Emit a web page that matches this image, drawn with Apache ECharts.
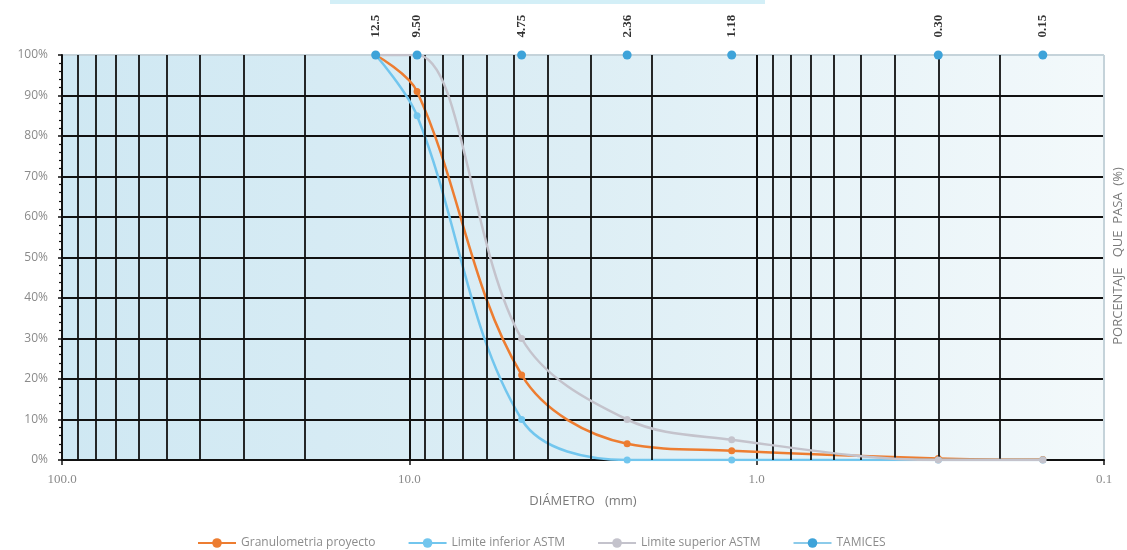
<!DOCTYPE html>
<html>
<head>
<meta charset="utf-8">
<script src="https://cdn.jsdelivr.net/npm/echarts@6/dist/echarts.min.js"></script>
<style>html,body{margin:0;padding:0;background:#fff;}#c{width:1127px;height:550px;}</style>
</head>
<body>
<div id="c"></div>
<script>
// Sieve sizes (mm) and their labels
const sieves = [12.5, 9.5, 4.75, 2.36, 1.18, 0.30, 0.15];
const sieveLabels = ['12.5', '9.50', '4.75', '2.36', '1.18', '0.30', '0.15'];
// Percent passing
const proyecto = [100, 91, 21, 4, 2.3, 0.4, 0.1];
const inferior = [100, 85, 10, 0, 0, 0, 0];
const superior = [100, 100, 30, 10, 5, 0, 0];
const tamices = [100, 100, 100, 100, 100, 100, 100];
// Minor vertical grid positions (mm)
const minorGrid = [90, 80, 70, 60, 50, 40, 30, 20, 9, 8, 7, 6, 5, 4, 3, 2, 0.9, 0.8, 0.7, 0.6, 0.5, 0.4, 0.3, 0.2];
const seriesNames = ['Granulometria proyecto', 'Limite inferior ASTM', 'Limite superior ASTM', 'TAMICES'];

const pairs = arr => sieves.map((s, i) => [s, arr[i]]);

const chart = echarts.init(document.getElementById('c'));
const option = {
  animation: false,
  backgroundColor: '#ffffff',
  grid: {
    left: 62, right: 23, top: 55, bottom: 90,
    show: true,
    borderWidth: 0,
    backgroundColor: new echarts.graphic.LinearGradient(0, 0, 1, 0, [
      { offset: 0, color: '#cfe8f3' },
      { offset: 0.5, color: '#ddeef5' },
      { offset: 1, color: '#f3f9fb' }
    ])
  },
  xAxis: {
    type: 'log', logBase: 10, min: 0.1, max: 100, inverse: true,
    name: 'DIÁMETRO   (mm)', nameLocation: 'middle', nameGap: 35,
    nameTextStyle: { color: '#7a7a7a', fontSize: 13, fontFamily: 'Open Sans' },
    axisLine: { show: true, onZero: false, lineStyle: { color: '#111', width: 2 } },
    axisTick: { show: true, length: 5, lineStyle: { color: '#111', width: 1.5 } },
    axisLabel: { color: '#8a8a8a', fontSize: 13, fontFamily: 'Liberation Serif', margin: 13,
      formatter: v => Number(v).toFixed(1) },
    splitLine: { show: true, lineStyle: { color: ['#c5d3da', '#111', '#111', '#111'], width: 2 } }
  },
  yAxis: {
    type: 'value', min: 0, max: 100, interval: 10,
    axisLine: { show: true, lineStyle: { color: '#111', width: 2 } },
    axisTick: { show: true, length: 4, lineStyle: { color: '#111', width: 1.5 } },
    minorTick: { show: true, splitNumber: 5, length: 3, lineStyle: { color: '#111', width: 1.2 } },
    axisLabel: { color: '#8a8a8a', fontSize: 12, fontFamily: 'Open Sans', margin: 14,
      formatter: '{value}%' },
    splitLine: { show: true, lineStyle: {
      color: ['#111', '#111', '#111', '#111', '#111', '#111', '#111', '#111', '#111', '#111', '#c5d3da'],
      width: 2 } }
  },
  legend: {
    left: 192, top: 532, itemWidth: 38, itemHeight: 12, itemGap: 32,
    textStyle: { color: '#8c8c8c', fontSize: 12, fontFamily: 'Open Sans' },
    data: [
      { name: seriesNames[0], textStyle: { width: 160 } },
      { name: seriesNames[1], textStyle: { width: 141 } },
      { name: seriesNames[2], textStyle: { width: 142 } },
      { name: seriesNames[3], textStyle: { width: 62 }, lineStyle: { color: '#8ccbea', width: 2, opacity: 1 } }
    ]
  },
  graphic: [
    { type: 'rect', left: 330, top: 0, shape: { width: 435, height: 4 }, style: { fill: '#d3eff7' }, silent: true },
    { type: 'text', x: 1118, y: 256, rotation: Math.PI / 2,
      style: { text: 'PORCENTAJE   QUE  PASA  (%)', fill: '#7a7a7a', font: '13px "Open Sans"', align: 'center', verticalAlign: 'middle' } }
  ],
  series: [
    {
      name: 'minor', type: 'line', data: [], silent: true, legendHoverLink: false,
      markLine: {
        silent: true, symbol: ['none', 'none'], label: { show: false },
        lineStyle: { color: '#111', width: 1.8, type: 'solid' },
        data: minorGrid.map(v => ({ xAxis: v }))
      }
    },
    {
      name: seriesNames[0], type: 'line', data: pairs(proyecto), smooth: 0.35,
      symbol: 'circle', symbolSize: 7, z: 3,
      lineStyle: { color: '#ed7d31', width: 2.5 }, itemStyle: { color: '#ed7d31' }
    },
    {
      name: seriesNames[1], type: 'line', data: pairs(inferior), smooth: 0.35,
      symbol: 'circle', symbolSize: 7, z: 4,
      lineStyle: { color: '#72c6ee', width: 2.5 }, itemStyle: { color: '#72c6ee' }
    },
    {
      name: seriesNames[2], type: 'line', data: pairs(superior), smooth: 0.35,
      symbol: 'circle', symbolSize: 7, z: 5,
      lineStyle: { color: '#c4c3cc', width: 2.5 }, itemStyle: { color: '#c4c3cc' }
    },
    {
      name: seriesNames[3], type: 'line', data: pairs(tamices),
      symbol: 'circle', symbolSize: 9, z: 6,
      lineStyle: { width: 0, opacity: 0 }, itemStyle: { color: '#3ea3d9' },
      label: {
        show: true, position: 'top', distance: 13, rotate: 90,
        align: 'left', verticalAlign: 'middle',
        fontFamily: 'Liberation Serif', fontWeight: 'bold', fontSize: 13, color: '#333',
        formatter: p => sieveLabels[p.dataIndex]
      }
    }
  ]
};
chart.setOption(option);
</script>
</body>
</html>
